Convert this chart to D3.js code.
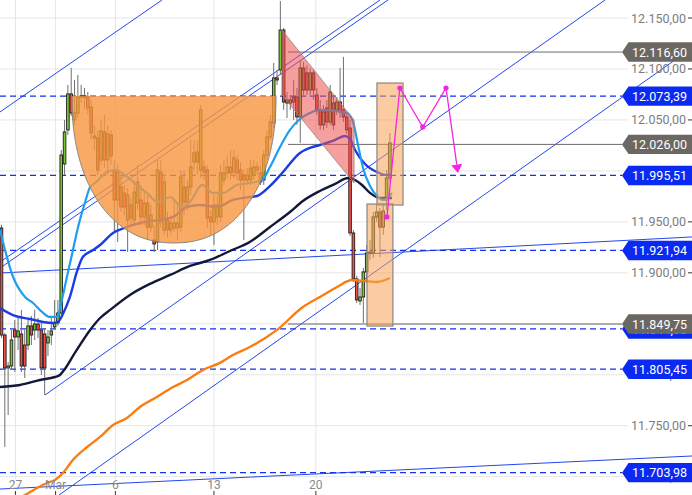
<!DOCTYPE html>
<html><head><meta charset="utf-8">
<script src="https://cdn.jsdelivr.net/npm/d3@7"></script>
<style>body{margin:0;background:#fff;} svg{display:block;font-family:Roboto,"DejaVu Sans",sans-serif;}</style>
</head><body>
<svg id="c" width="692" height="495"></svg>
<script>
// ---------- DATA ----------
const opens = [11944.0,11839.0,11806.7,11808.6,11843.9,11837.1,11840.0,11829.2,11829.2,11847.9,11843.9,11849.8,11843.9,11840.0,11831.2,11839.0,11846.9,11850.8,11860.6,12006.8,12040.2,12075.5,12050.0,12056.8,12072.5,12073.5,12072.5,12062.7,12034.3,12032.3,12010.7,12038.2,12010.7,12035.3,12000.9,11971.5,11984.2,11978.3,11951.8,11966.6,11951.8,11968.5,11971.5,11954.8,11968.5,11944.9,11932.2,11930.3,11998.9,11942.0,11951.8,11942.0,11944.0,11944.0,11944.9,11984.2,11968.5,11984.2,12008.7,12018.6,12000.9,12003.8,12000.9,11954.8,11949.9,11954.8,11954.8,11991.1,11998.0,12003.8,11998.9,12010.7,12000.9,11996.0,11991.1,11991.1,11996.0,12000.9,11989.1,11991.1,12015.6,12033.3,12047.0,12091.2,12099.0,12138.2,12069.6,12066.6,12072.5,12072.5,12052.9,12101.0,12096.1,12079.4,12096.1,12074.5,12059.8,12045.1,12061.7,12048.0,12066.6,12059.8,12067.6,12059.8,12052.9,12042.1,11939.1,11894.0,11872.4,11876.3,11900.9,11920.4,11919.5,11954.8,11959.7,11944.9,11971.5,11993.0];
const closes = [11839.0,11806.7,11808.6,11834.1,11837.1,11843.0,11808.6,11808.6,11847.9,11839.0,11849.8,11843.9,11806.7,11806.7,11837.1,11843.0,11850.8,11860.6,12015.6,12038.2,12075.5,12056.8,12056.8,12072.5,12073.5,12072.0,12061.7,12037.2,12032.3,12000.9,12039.2,12010.7,12036.2,12014.6,11971.5,11998.9,11964.6,11964.6,11976.4,11953.8,11979.3,11989.1,11954.8,11968.5,11944.9,11956.7,11928.3,12000.9,11949.9,11989.1,11942.0,11948.9,11948.9,11948.9,11994.0,11969.5,11984.2,12003.8,12017.6,12008.7,12059.8,11998.9,11953.8,11949.9,11966.6,11966.6,11998.0,11998.0,12003.8,11998.0,12012.7,11998.0,11991.1,11991.1,11996.0,12002.8,12003.8,12003.8,11998.0,12015.6,12033.3,12048.0,12091.2,12089.2,12138.2,12067.6,12066.6,12069.6,12067.6,12052.9,12101.0,12079.4,12079.4,12096.1,12079.4,12059.8,12045.1,12057.8,12048.0,12077.4,12045.1,12067.6,12057.8,12052.9,12040.2,11939.1,11894.0,11873.4,11876.3,11900.9,11919.5,11919.5,11954.8,11959.7,11944.9,11960.7,11993.0,12027.4];
const highs = [11947.0,11841.0,11812.5,11843.9,11853.7,11855.7,11863.6,11843.9,11855.7,11857.7,11863.6,11855.7,11851.8,11845.9,11843.9,11857.7,11873.4,11873.4,12020.5,12050.0,12084.3,12101.0,12089.2,12094.1,12084.3,12081.4,12077.4,12069.6,12045.1,12040.2,12050.0,12054.9,12045.1,12040.2,12010.7,12005.8,11996.0,11986.2,11983.2,11973.4,11991.1,12005.8,11986.2,11981.3,11976.4,11966.6,11946.9,12010.7,12010.7,11996.0,11959.7,11956.7,11971.5,11966.6,12000.9,12000.9,11991.1,12030.3,12030.3,12030.3,12064.6,12010.7,12005.8,11961.6,11976.4,11976.4,12005.8,12010.7,12015.6,12020.5,12020.5,12015.6,12008.7,12000.9,12002.8,12010.7,12010.7,12008.7,12005.8,12020.5,12040.2,12054.9,12105.9,12099.0,12166.7,12140.2,12077.4,12074.5,12089.2,12081.4,12108.8,12106.9,12103.9,12101.0,12099.0,12081.4,12069.6,12064.6,12069.6,12084.3,12074.5,12072.5,12101.0,12111.8,12057.8,12050.0,11942.0,11897.0,11885.2,11904.8,11927.3,11932.2,11959.7,11966.6,11963.6,11966.6,12000.9,12037.2];
const lows = [11836.1,11729.1,11760.5,11804.7,11802.7,11824.3,11802.7,11796.8,11824.3,11829.2,11834.1,11836.1,11799.8,11780.1,11818.4,11829.2,11843.9,11847.9,11857.7,11996.0,12035.3,12053.9,12045.1,12051.9,12066.6,12059.8,12054.9,12030.3,12020.5,11996.0,12005.8,12002.8,11996.0,12005.8,11940.1,11930.3,11959.7,11956.7,11920.4,11946.9,11946.9,11961.6,11946.9,11946.9,11932.2,11940.1,11920.4,11922.4,11944.0,11937.1,11934.2,11937.1,11940.1,11932.2,11940.1,11956.7,11961.6,11976.4,12000.9,11996.0,11993.0,11991.1,11944.0,11937.1,11927.3,11946.9,11949.9,11986.2,11993.0,11991.1,11993.0,11991.1,11981.3,11932.2,11986.2,11986.2,11991.1,11996.0,11986.2,11986.2,12010.7,12030.3,12042.1,12084.3,12094.1,12059.8,12051.9,12059.8,12050.0,12045.1,12027.4,12074.5,12074.5,12074.5,12069.6,12054.9,12040.2,12040.2,12042.1,12045.1,12040.2,12054.9,12051.9,12048.0,12036.2,11936.1,11891.0,11870.4,11868.5,11850.8,11893.0,11912.6,11914.6,11949.9,11915.5,11937.1,11961.6,11989.1];

// moving averages: [candle index, price]
const lightBlueMA = [[-0.45,11942.0],[3.5,11895.9],[7.1,11876.3],[9.5,11870.4],[12.2,11861.6],[14.6,11856.7],[16.7,11856.7],[18.2,11873.4],[19.7,11895.9],[21.2,11917.5],[23.0,11944.0],[25.2,11969.5],[26.7,11984.2],[28.2,11988.1],[31.8,11998.9],[34.2,12000.9],[37.2,11996.0],[40.8,11986.2],[43.8,11978.4],[47.1,11969.5],[50.8,11974.4],[54.4,11964.6],[56.8,11969.5],[60.4,11986.2],[63.7,11978.4],[66.7,11978.4],[70.9,11986.2],[74.8,11988.1],[78.5,11991.1],[80.9,12004.0],[83.9,12023.5],[86.9,12040.2],[89.9,12050.9],[92.9,12056.8],[95.9,12059.8],[101.1,12058.8],[104.1,12056.8],[105.9,12048.0],[107.4,12025.4],[108.9,12002.9],[111.0,11985.2],[113.1,11975.4],[114.9,11971.5],[116.4,11973.4],[117.6,11978.4]];
const blueMA = [[-0.45,11865.5],[4.1,11857.7],[8.6,11854.7],[12.5,11851.8],[15.5,11850.8],[17.0,11851.8],[18.5,11859.6],[20.6,11876.3],[22.7,11900.9],[24.5,11915.5],[27.6,11922.4],[29.7,11927.3],[33.6,11939.1],[37.8,11945.0],[41.7,11948.9],[47.7,11951.9],[51.7,11954.8],[55.9,11964.6],[59.8,11966.6],[64.9,11964.6],[69.7,11971.5],[74.8,11974.4],[77.0,11975.4],[80.9,11985.2],[84.8,11998.9],[89.9,12017.6],[92.9,12022.5],[95.9,12025.4],[99.8,12029.4],[103.5,12034.3],[105.0,12031.3],[106.5,12020.5],[109.5,12006.8],[113.1,11998.9],[116.1,11996.0],[117.6,11996.0]];
const navyMA = [[-0.45,11788.0],[5.6,11790.0],[11.6,11794.9],[16.1,11797.8],[17.6,11799.8],[19.1,11805.7],[22.1,11821.4],[26.7,11844.0],[29.7,11855.7],[32.7,11863.6],[38.7,11878.3],[44.7,11889.1],[50.8,11897.9],[56.8,11906.7],[62.8,11912.6],[68.8,11921.4],[74.8,11930.3],[80.9,11945.0],[86.9,11959.7],[90.8,11970.5],[95.9,11980.3],[100.5,11987.2],[104.4,11993.0],[106.5,11991.1],[108.6,11986.2],[111.0,11978.4],[114.0,11973.4],[117.6,11973.4]];
const orangeMA = [[4.1,11677.1],[7.1,11682.0],[10.7,11688.9],[13.7,11693.8],[16.1,11696.8],[18.5,11703.6],[21.5,11716.4],[25.8,11729.1],[29.7,11739.0],[33.6,11750.7],[37.8,11757.6],[41.7,11768.4],[46.8,11778.2],[51.7,11788.0],[55.9,11794.9],[60.7,11804.7],[65.8,11811.6],[69.7,11819.4],[74.8,11827.2],[83.0,11844.0],[90.8,11866.5],[95.9,11876.3],[101.1,11886.1],[105.6,11892.9],[109.5,11892.0],[113.1,11891.0],[117.0,11894.9]];

// x axis ticks (candle index positions) and labels
const tickIdx = [4.2, 16.3, 34.3, 64.0, 94.7];
const tickLabels = ["27", "Mar", "6", "13", "20"];
// y axis grid levels
const yTicks = [12150, 12100, 12050, 12000, 11950, 11900, 11850, 11800, 11750, 11700];

// horizontal levels
const blueLevels = [12073.39, 11995.51, 11921.94, 11844.95, 11805.45, 11703.98];
const grayLevels = [12116.60, 12026.00, 11849.75];
const grayLevelStart = 86.3;

// trend lines: [idx0, price0, idx1, price1]
const trendLines = [
  [-0.45, 12057.8, 48.35, 12167.66],
  [-0.45, 11910.6, 114.02, 12167.66],
  [-0.45, 11904.7, 116.43, 12167.66],
  [13.1, 11780.1, 181.8, 12167.66],
  [17.32, 11682.0, 208.0, 12120.6],
  [-0.45, 11899.8, 208.0, 11935.2],
  [-0.45, 11687.9, 208.0, 11720.3]
];

// annotations
const cupIdx = [21.2, 82.7];
const cupTop = 12073.39, cupBottom = 11929.3;
const chanIdx = [84.5, 106.2];
const chanTop = [12138.2, 12049.9];
const chanBottom = [12074.5, 11988.1];
const boxIdx0 = [113.1, 110.1], boxIdx1 = [120.95, 117.9];
const boxHigh = [12086.2, 11967.5], boxLow = [11966.5, 11847.8];
const projIdx = [116.1, 120.0, 126.9, 133.9, 137.5];
const projVal = [11954.8, 12081.3, 12043.1, 12081.3, 11997.9];

// ---------- DRAW ----------
const W = 692, H = 495, plotBottom = 479, plotRight = 628, badgeX = 622;
const svg = d3.select('#c');
const x = d3.scaleLinear().domain([-0.45, 208]).range([0, W]);
const y = d3.scaleLinear().domain([11697.73, 12167.66]).range([plotBottom, 0]);
const loc = d3.formatLocale({decimal: ",", thousands: ".", grouping: [3], currency: ["", ""]});
const fmt = loc.format(",.2f");

// grid
const g0 = svg.append('g');
g0.selectAll('line.h').data(yTicks).join('line')
  .attr('x1', 0).attr('x2', plotRight).attr('y1', d => y(d)).attr('y2', d => y(d))
  .attr('stroke', '#e6e6e6').attr('stroke-width', 1);
g0.selectAll('line.v').data(tickIdx).join('line')
  .attr('x1', d => x(d)).attr('x2', d => x(d)).attr('y1', 0).attr('y2', plotBottom)
  .attr('stroke', '#e6e6e6').attr('stroke-width', 1);

// trend lines
const g1 = svg.append('g');
g1.selectAll('line').data(trendLines).join('line')
  .attr('x1', d => x(d[0])).attr('y1', d => y(d[1]))
  .attr('x2', d => x(d[2])).attr('y2', d => y(d[3]))
  .attr('stroke', '#2447ef').attr('stroke-width', 1);
// dashed levels
g1.selectAll('line.bl').data(blueLevels).join('line')
  .attr('x1', 0).attr('x2', badgeX).attr('y1', d => y(d)).attr('y2', d => y(d))
  .attr('stroke', '#1232ee').attr('stroke-width', 1.3).attr('stroke-dasharray', '6,4');
g1.selectAll('line.gl').data(grayLevels).join('line')
  .attr('x1', x(grayLevelStart)).attr('x2', badgeX).attr('y1', d => y(d)).attr('y2', d => y(d))
  .attr('stroke', '#6e6a66').attr('stroke-width', 1);

// candles
const idx = d3.range(opens.length);
const gc = svg.append('g');
gc.selectAll('line').data(idx).join('line')
  .attr('x1', i => x(i)).attr('x2', i => x(i))
  .attr('y1', i => y(highs[i])).attr('y2', i => y(lows[i]))
  .attr('stroke', '#6f6f6f').attr('stroke-width', 1);
const bw = 2.6;
gc.selectAll('rect').data(idx).join('rect')
  .attr('x', i => x(i) - bw / 2)
  .attr('y', i => y(Math.max(opens[i], closes[i])))
  .attr('width', bw)
  .attr('height', i => Math.max(0.8, Math.abs(y(opens[i]) - y(closes[i]))))
  .attr('fill', i => closes[i] >= opens[i] ? '#7cc832' : '#ee4f48')
  .attr('stroke', '#1d1d1d').attr('stroke-width', 0.9);

// moving averages
const lineGen = d3.line().x(d => x(d[0])).y(d => y(d[1])).curve(d3.curveMonotoneX);
const gm = svg.append('g').attr('fill', 'none').attr('stroke-linejoin', 'round');
gm.append('path').attr('d', lineGen(orangeMA)).attr('stroke', '#fb7d10').attr('stroke-width', 2.4);
gm.append('path').attr('d', lineGen(navyMA)).attr('stroke', '#121838').attr('stroke-width', 2.4);
gm.append('path').attr('d', lineGen(blueMA)).attr('stroke', '#1a3ce4').attr('stroke-width', 2.4);
gm.append('path').attr('d', lineGen(lightBlueMA)).attr('stroke', '#1f9ef0').attr('stroke-width', 2.2);

// overlays
const go = svg.append('g');
// cup (rounded bowl)
{
  const xl = x(cupIdx[0]), xr = x(cupIdx[1]);
  const cx = (xl + xr) / 2, rx = (xr - xl) / 2;
  const yt = y(cupTop), ry = y(cupBottom) - yt;
  const e = 2 / 2.2;
  const pts = d3.range(0, 181).map(k => {
    const t = Math.PI - k * Math.PI / 180;
    const c = Math.cos(t), s = Math.sin(t);
    return [cx + rx * Math.sign(c) * Math.pow(Math.abs(c), e), yt + ry * Math.pow(Math.abs(s), e)];
  });
  go.append('path').attr('d', 'M' + pts.map(p => p.join(',')).join('L') + 'Z')
    .attr('fill', '#f7963f').attr('fill-opacity', 0.8).attr('stroke', 'none');
  go.append('path').attr('d', 'M' + pts.map(p => p.join(',')).join('L'))
    .attr('fill', 'none').attr('stroke', '#8a8580').attr('stroke-width', 1);
}
// falling channel
go.append('polygon')
  .attr('points', [[x(chanIdx[0]), y(chanTop[0])], [x(chanIdx[1]), y(chanTop[1])], [x(chanIdx[1]), y(chanBottom[1])], [x(chanIdx[0]), y(chanBottom[0])]].map(p => p.join(',')).join(' '))
  .attr('fill', '#ee5050').attr('fill-opacity', 0.55).attr('stroke', '#8f8a86').attr('stroke-width', 0.8);
// boxes
go.selectAll('rect').data([0, 1]).join('rect')
  .attr('x', k => x(boxIdx0[k])).attr('y', k => y(boxHigh[k]))
  .attr('width', k => x(boxIdx1[k]) - x(boxIdx0[k]))
  .attr('height', k => y(boxLow[k]) - y(boxHigh[k]))
  .attr('fill', '#f7a056').attr('fill-opacity', 0.55)
  .attr('stroke', '#8a8580').attr('stroke-width', 1.2);

// projection path (magenta)
const gp = svg.append('g');
const ppts = projIdx.map((d, k) => [x(d), y(projVal[k])]);
const last = ppts[ppts.length - 1], prev = ppts[ppts.length - 2];
const ang = Math.atan2(last[1] - prev[1], last[0] - prev[0]);
const ah = 8.5, aw = 5.5;
const base = [last[0] - ah * Math.cos(ang), last[1] - ah * Math.sin(ang)];
gp.append('path').attr('d', d3.line()(ppts.slice(0, -1).concat([base])))
  .attr('fill', 'none').attr('stroke', '#f425e0').attr('stroke-width', 1.3);
gp.append('polygon').attr('points', [
  last,
  [base[0] + aw * Math.sin(ang), base[1] - aw * Math.cos(ang)],
  [base[0] - aw * Math.sin(ang), base[1] + aw * Math.cos(ang)]
].map(p => p.join(',')).join(' ')).attr('fill', '#f425e0');
gp.selectAll('circle').data(ppts.slice(0, -1)).join('circle')
  .attr('cx', d => d[0]).attr('cy', d => d[1]).attr('r', 2.6).attr('fill', '#f425e0');

// axes
const ga = svg.append('g').attr('font-size', 12.5);
ga.selectAll('text.yl').data(yTicks).join('text')
  .attr('x', 686).attr('y', d => y(d) + 4.5).attr('text-anchor', 'end')
  .attr('fill', '#7d7d7d').text(d => fmt(d));
ga.selectAll('line.yt').data(yTicks).join('line')
  .attr('x1', 688).attr('x2', 692).attr('y1', d => y(d)).attr('y2', d => y(d))
  .attr('stroke', '#333').attr('stroke-width', 1);
ga.selectAll('text.xl').data(tickIdx).join('text')
  .attr('x', d => x(d)).attr('y', 489).attr('text-anchor', 'middle')
  .attr('fill', '#8a8a8a').attr('font-size', 12).text((d, k) => tickLabels[k]);
ga.selectAll('line.xt').data(tickIdx).join('line')
  .attr('x1', d => x(d)).attr('x2', d => x(d)).attr('y1', 491).attr('y2', 495)
  .attr('stroke', '#333').attr('stroke-width', 1);

// badges
function badge(v, fill) {
  const yy = y(v);
  const g = svg.append('g');
  g.append('polygon').attr('points', [[badgeX, yy], [628.5, yy - 9.7], [W, yy - 9.7], [W, yy + 9.7], [628.5, yy + 9.7]].map(p => p.join(',')).join(' '))
    .attr('fill', fill);
  g.append('text').attr('x', 632).attr('y', yy + 4.6).attr('fill', '#fff').attr('font-size', 12.5).text(fmt(v));
}
blueLevels.forEach(v => badge(v, '#0a2af2'));
grayLevels.forEach(v => badge(v, '#6b6762'));
</script>
</body></html>
